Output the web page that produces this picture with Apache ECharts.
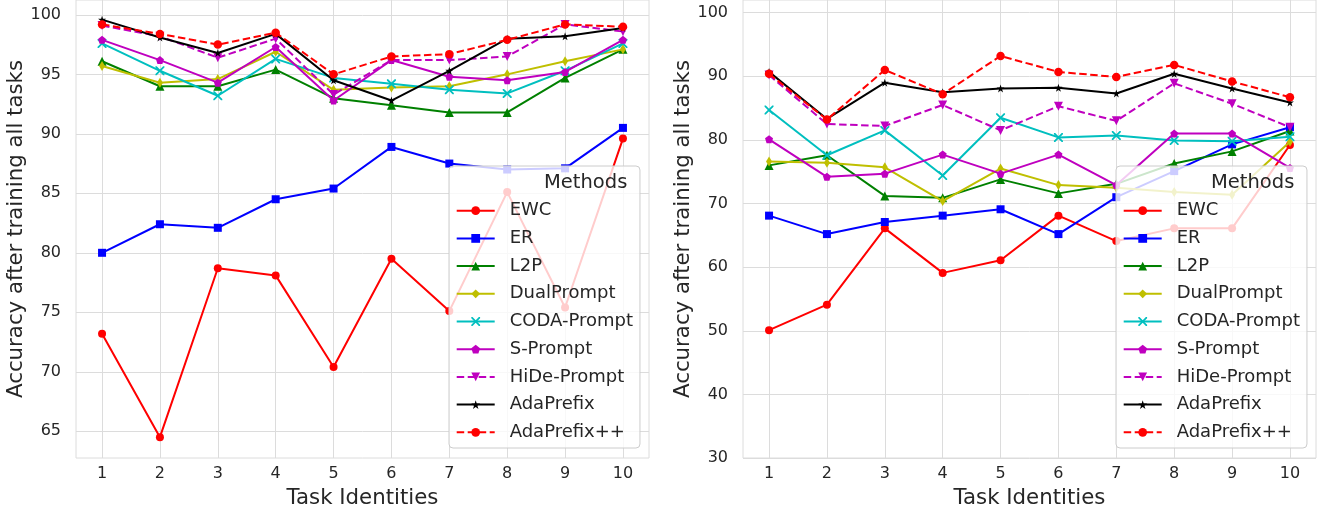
<!DOCTYPE html>
<html>
<head>
<meta charset="utf-8">
<script src="https://cdn.jsdelivr.net/npm/echarts@6/dist/echarts.min.js"></script>
<style>
html,body{margin:0;padding:0;background:#ffffff;}
#chart{width:1322px;height:510px;}
</style>
</head>
<body>
<div id="chart"></div>
<script>
// ---------------- data ----------------
const tasks = [1, 2, 3, 4, 5, 6, 7, 8, 9, 10];
const methods = ['EWC', 'ER', 'L2P', 'DualPrompt', 'CODA-Prompt', 'S-Prompt', 'HiDe-Prompt', 'AdaPrefix', 'AdaPrefix++'];

// left panel
const leftEWC        = [73.2, 64.5, 78.7, 78.1, 70.4, 79.5, 75.1, 85.1, 75.4, 89.6];
const leftER         = [80.0, 82.4, 82.1, 84.5, 85.4, 88.9, 87.5, 87.0, 87.1, 90.5];
const leftL2P        = [96.1, 94.0, 94.0, 95.4, 93.0, 92.4, 91.8, 91.8, 94.7, 97.1];
const leftDualPrompt = [95.7, 94.3, 94.6, 96.9, 93.7, 93.9, 94.0, 95.0, 96.1, 97.1];
const leftCODA       = [97.6, 95.3, 93.2, 96.3, 94.7, 94.2, 93.7, 93.4, 95.3, 97.6];
const leftSPrompt    = [97.9, 96.2, 94.3, 97.3, 92.8, 96.2, 94.8, 94.5, 95.2, 97.9];
const leftHiDe       = [99.1, 98.2, 96.4, 98.0, 93.3, 96.2, 96.2, 96.5, 99.2, 98.6];
const leftAdaPrefix  = [99.6, 98.1, 96.8, 98.4, 94.5, 92.8, 95.3, 98.0, 98.2, 98.9];
const leftAdaPrefixPP= [99.2, 98.4, 97.5, 98.5, 95.0, 96.5, 96.7, 97.9, 99.2, 99.0];

// right panel
const rightEWC        = [50.1, 54.1, 66.1, 59.1, 61.1, 68.1, 64.1, 66.1, 66.1, 79.2];
const rightER         = [68.1, 65.2, 67.1, 68.1, 69.1, 65.2, 71.0, 75.1, 79.3, 82.0];
const rightL2P        = [76.0, 77.6, 71.2, 70.9, 73.8, 71.6, 73.1, 76.3, 78.2, 81.4];
const rightDualPrompt = [76.6, 76.4, 75.7, 70.4, 75.5, 72.9, 72.5, 71.8, 71.4, 79.7];
const rightCODA       = [84.7, 77.6, 81.5, 74.4, 83.5, 80.4, 80.7, 79.9, 79.8, 80.5];
const rightSPrompt    = [80.1, 74.2, 74.7, 77.7, 74.7, 77.7, 72.9, 81.0, 81.0, 75.6];
const rightHiDe       = [90.2, 82.5, 82.2, 85.5, 81.5, 85.3, 83.0, 88.9, 85.7, 82.0];
const rightAdaPrefix  = [90.7, 83.3, 89.0, 87.5, 88.1, 88.2, 87.3, 90.4, 88.1, 85.9];
const rightAdaPrefixPP= [90.4, 83.2, 91.0, 87.2, 93.2, 90.7, 89.9, 91.8, 89.2, 86.7];

const leftYTicks  = [65, 70, 75, 80, 85, 90, 95, 100];
const rightYTicks = [30, 40, 50, 60, 70, 80, 90, 100];

const xLabel = 'Task Identities';
const yLabel = 'Accuracy after training all tasks';
const legendTitle = 'Methods';

const leftValues  = [leftEWC, leftER, leftL2P, leftDualPrompt, leftCODA, leftSPrompt, leftHiDe, leftAdaPrefix, leftAdaPrefixPP];
const rightValues = [rightEWC, rightER, rightL2P, rightDualPrompt, rightCODA, rightSPrompt, rightHiDe, rightAdaPrefix, rightAdaPrefixPP];

// ---------------- styles ----------------
const FONT = 'DejaVu Sans';
const TXT = '#262626';
const GRIDC = '#dcdcdc';
const DASH = [7.5, 3.5];
const xSym = 'path://M0,0 L1.4,0 L5,3.6 L8.6,0 L10,0 L10,1.4 L6.4,5 L10,8.6 L10,10 L8.6,10 L5,6.4 L1.4,10 L0,10 L0,8.6 L3.6,5 L0,1.4 Z';
const pentSym = 'path://M50,0 L97.6,34.5 L79.4,90.5 L20.6,90.5 L2.4,34.5 Z';
const starSym = 'path://M50,0 L61.2,34.5 L97.6,34.5 L68.2,55.9 L79.4,90.5 L50,69.1 L20.6,90.5 L31.8,55.9 L2.4,34.5 L38.8,34.5 Z';
const downTri = 'path://M0,0 L10,0 L5,8.66 Z';
const thinDiamond = 'path://M3,0 L6,5 L3,10 L0,5 Z';

const styles = {
  'EWC':         {color: '#ff0000', symbol: 'circle',    size: 8,  dash: 'solid'},
  'ER':          {color: '#0000ff', symbol: 'rect',      size: 8,  dash: 'solid'},
  'L2P':         {color: '#008000', symbol: 'triangle',  size: 9,  dash: 'solid'},
  'DualPrompt':  {color: '#bfbf00', symbol: thinDiamond, size: 10, dash: 'solid', keep: true},
  'CODA-Prompt': {color: '#00bfbf', symbol: xSym,        size: 9,  dash: 'solid'},
  'S-Prompt':    {color: '#bf00bf', symbol: pentSym,     size: 8,  dash: 'solid'},
  'HiDe-Prompt': {color: '#bf00bf', symbol: downTri,     size: 9,  dash: DASH},
  'AdaPrefix':   {color: '#000000', symbol: starSym,     size: 8,  dash: 'solid'},
  'AdaPrefix++': {color: '#ff0000', symbol: 'circle',    size: 8.5, dash: DASH}
};

const panels = [
  {left: 76,  values: leftValues,  yMin: 62.75, yMax: 101.25, yTicks: leftYTicks,  legendLeft: 449,  titleX: 544},
  {left: 743, values: rightValues, yMin: 30,    yMax: 102,    yTicks: rightYTicks, legendLeft: 1116, titleX: 1211}
];

const grid = [], xAxis = [], yAxis = [], series = [], legend = [], graphicEls = [];

panels.forEach((p, pi) => {
  grid.push({left: p.left, top: 0, width: 573, height: 458, show: true,
             outerBoundsMode: 'none', containLabel: false,
             borderColor: GRIDC, borderWidth: 1, backgroundColor: 'transparent'});
  xAxis.push({
    type: 'value', gridIndex: pi, min: 0.55, max: 10.45,
    axisLine: {show: false},
    axisTick: {show: false, customValues: tasks},
    axisLabel: {customValues: tasks, fontSize: 16, color: TXT, fontFamily: FONT, margin: 8},
    splitLine: {show: true, lineStyle: {color: GRIDC, width: 1}},
    name: xLabel, nameLocation: 'middle', nameGap: 30,
    nameTextStyle: {fontSize: 21.3, color: TXT, fontFamily: FONT}
  });
  yAxis.push({
    type: 'value', gridIndex: pi, min: p.yMin, max: p.yMax,
    axisLine: {show: false},
    axisTick: {show: false, customValues: p.yTicks},
    axisLabel: {customValues: p.yTicks, fontSize: 16, color: TXT, fontFamily: FONT, margin: 15},
    splitLine: {show: true, lineStyle: {color: GRIDC, width: 1}},
    name: yLabel, nameLocation: 'middle', nameGap: 41,
    nameTextStyle: {fontSize: 21.3, color: TXT, fontFamily: FONT}
  });
  methods.forEach((m, mi) => {
    const s = styles[m];
    series.push({
      name: m, type: 'line', xAxisIndex: pi, yAxisIndex: pi,
      data: tasks.map((t, i) => [t, p.values[mi][i]]),
      symbol: s.symbol, symbolSize: s.size, symbolKeepAspect: !!s.keep,
      showAllSymbol: true, showSymbol: true,
      lineStyle: {color: s.color, width: 2, type: s.dash},
      itemStyle: {color: s.color, borderWidth: 0},
      emphasis: {disabled: true},
      animation: false, z: 2 + mi * 0.01
    });
  });
  legend.push({
    data: methods, orient: 'vertical', left: p.legendLeft, top: 166,
    itemWidth: 38, itemHeight: 11, itemGap: 9.7,
    padding: [35.7, 7, 6.7, 6.7],
    backgroundColor: 'rgba(255,255,255,0.8)', borderColor: '#cccccc', borderWidth: 1, borderRadius: 4,
    textStyle: {fontSize: 18, lineHeight: 18, color: TXT, fontFamily: FONT, padding: [0, 0, 0, 10]},
    selectedMode: false, z: 10
  });
  graphicEls.push({
    type: 'text', left: p.titleX, top: 173, z: 100,
    style: {text: legendTitle, x: 0, y: 0, fill: TXT, fontSize: 19.5, fontFamily: FONT, textAlign: 'center'}
  });
});

const chart = echarts.init(document.getElementById('chart'), null, {renderer: 'canvas'});
chart.setOption({
  animation: false,
  backgroundColor: '#ffffff',
  textStyle: {fontFamily: FONT},
  grid, xAxis, yAxis, series, legend,
  graphic: {elements: graphicEls}
});
</script>
</body>
</html>
